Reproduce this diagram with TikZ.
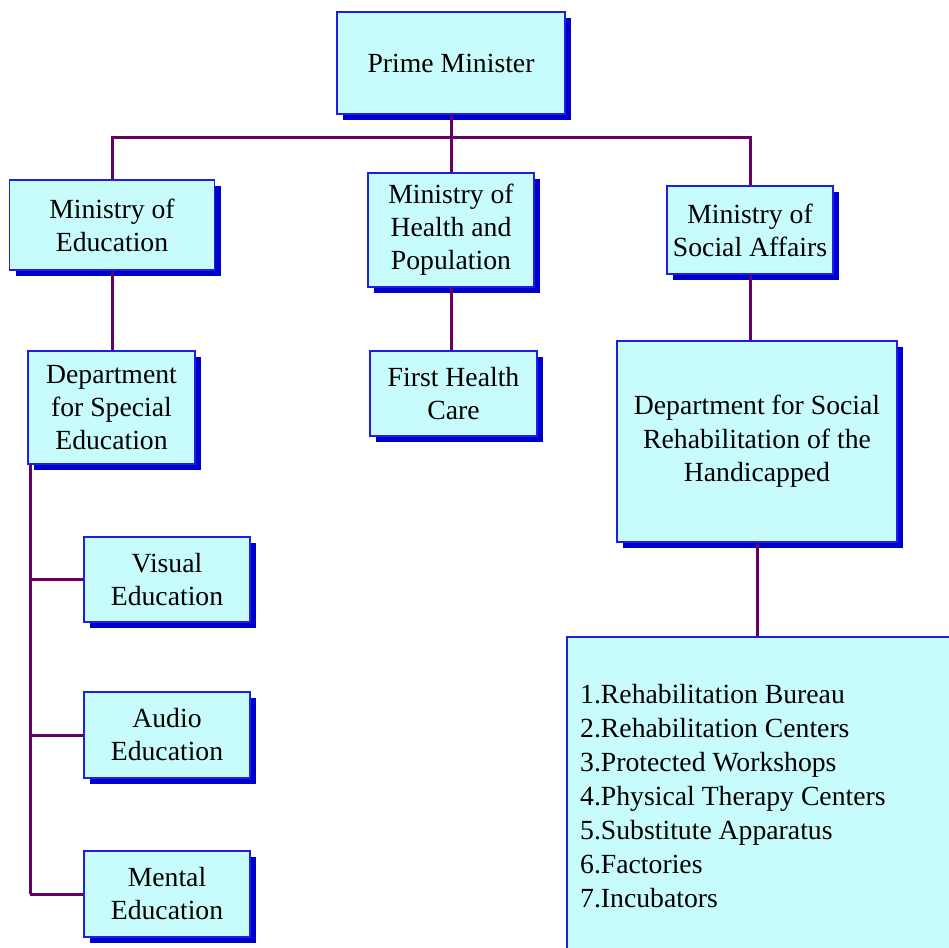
\documentclass[tikz,border=0pt]{standalone}
\usepackage{fontspec}
\setmainfont{Liberation Serif}
\usetikzlibrary{shadows}
\definecolor{boxfill}{HTML}{C8FCFC}
\definecolor{boxline}{HTML}{1E1EE6}
\definecolor{shadowblue}{HTML}{0000CC}
\definecolor{linkpurple}{HTML}{660066}
\tikzset{
  orgbox/.style={draw=boxline, line width=1.5pt, fill=boxfill,
    drop shadow={shadow xshift=6pt, shadow yshift=-6pt, fill=shadowblue, opacity=1},
    align=center, inner sep=0pt, font=\fontsize{27.7}{33}\selectfont},
  link/.style={draw=linkpurple, line width=3pt}
}
\begin{document}
\begin{tikzpicture}[x=1pt,y=-1pt]
\useasboundingbox (0,0) rectangle (949,947);
\clip (0,0) rectangle (949,947);
\coordinate (bus) at (0,137);
\coordinate (trunktop) at (30,465);
% boxes
\node[orgbox, minimum width=228pt, minimum height=102pt] (pm) at (451,63) {Prime Minister};
\node[orgbox, minimum width=205pt, minimum height=90pt] (moe) at (112,225) {Ministry of\\Education};
\node[orgbox, minimum width=166pt, minimum height=114pt] (moh) at (451,230) {Ministry of\\Health and\\Population};
\node[orgbox, minimum width=166pt, minimum height=88pt] (mosa) at (750,230) {Ministry of\\Social Affairs};
\node[orgbox, minimum width=167pt, minimum height=113pt] (dse) at (111.5,407.5) {Department\\for Special\\Education};
\node[orgbox, minimum width=167pt, minimum height=85pt] (fhc) at (453.5,393.5) {First Health\\Care};
\node[orgbox, minimum width=280pt, minimum height=201pt, font=\fontsize{27.7}{33.5}\selectfont] (dsr) at (757,441.5) {Department for Social\\Rehabilitation of the\\Handicapped};
\node[orgbox, minimum width=166pt, minimum height=85pt] (ve) at (167,579.5) {Visual\\Education};
\node[orgbox, minimum width=166pt, minimum height=86pt] (ae) at (167,735) {Audio\\Education};
\node[orgbox, minimum width=166pt, minimum height=86pt] (me) at (167,894) {Mental\\Education};
\node[orgbox, anchor=north west, minimum width=420pt, minimum height=400pt] (big) at (566,636) {};
\node[anchor=base west, align=left, inner sep=0pt, font=\fontsize{27.7}{34}\selectfont] (list) at (580,907)
  {1.Rehabilitation Bureau\\2.Rehabilitation Centers\\3.Protected Workshops\\4.Physical Therapy Centers\\5.Substitute Apparatus\\6.Factories\\7.Incubators};
% connectors
\draw[link] (pm.south) -- (pm.south |- bus);
\draw[link] (moe.north) -- (moe.north |- bus) -- (bus -| mosa.north) -- (mosa.north);
\draw[link] (moh.north) -- (moh.north |- bus);
\draw[link] (moe.south) -- (moe.south |- dse.north);
\draw[link] (moh.south) -- (moh.south |- fhc.north);
\draw[link] (mosa.south) -- (mosa.south |- dsr.north);
\draw[link] (dsr.south) -- (dsr.south |- big.north);
\draw[link] (trunktop) -- (trunktop |- me.west);
\draw[link] (trunktop |- ve.west) -- (ve.west);
\draw[link] (trunktop |- ae.west) -- (ae.west);
\draw[link] (trunktop |- me.west) -- (me.west);
\end{tikzpicture}
\end{document}
